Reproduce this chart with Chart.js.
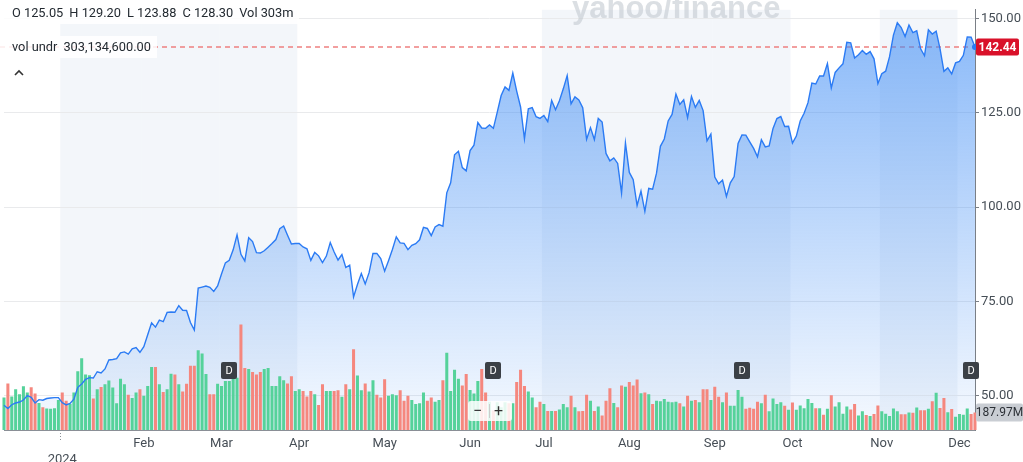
<!DOCTYPE html>
<html><head><meta charset="utf-8">
<script src="https://cdn.jsdelivr.net/npm/chart.js@4.4.1/dist/chart.umd.min.js"></script>
<style>
html,body{margin:0;padding:0;background:#fff;}
#wrap{position:relative;width:1023px;height:462px;overflow:hidden;font-family:Roboto,'Liberation Sans',Arial,sans-serif;}
#c{position:absolute;left:0;top:0;}
.ov{position:absolute;color:#232a31;font-size:12.8px;white-space:nowrap;background:rgba(255,255,255,0.85);padding:2px 6px 2px 12px;line-height:18px;}
.ov span{margin-right:6px;}
.ov span:last-child{margin-right:0;}
#wm{position:absolute;left:572px;top:-10px;font-family:'Liberation Sans',Arial,sans-serif;font-weight:bold;font-size:31px;letter-spacing:0px;color:rgba(190,196,204,0.55);}
#zoomctl{position:absolute;left:468px;top:401px;width:44px;height:20px;background:rgba(255,255,255,0.85);border-radius:3px;font-size:16px;color:#333;}
#zoomctl .a{position:absolute;left:5px;top:0px;}
#zoomctl .b{position:absolute;left:26px;top:0px;}
#zoomctl .sep{position:absolute;left:21px;top:3px;width:1px;height:14px;background:#ccc;}
#caret{position:absolute;left:13px;top:68px;}
</style></head>
<body>
<div id="wrap">
<canvas id="c" width="1023" height="462"></canvas>
<div id="wm">yahoo/finance</div>
<div class="ov" style="left:0;top:2px;"><span>O 125.05</span><span>H 129.20</span><span>L 123.88</span><span>C 128.30</span><span>Vol 303m</span></div>
<div class="ov" style="left:0;top:36px;"><span>vol undr</span><span>303,134,600.00</span></div>
<svg id="caret" width="12" height="10"><polyline points="2,7 6,3 10,7" fill="none" stroke="#333" stroke-width="1.6"/></svg>
<div id="zoomctl"><span class="a">−</span><span class="sep"></span><span class="b">+</span></div>
</div>
<script>
// ---- categories: trading days ----
const tradingDays = [
  ['2023-12',[8,11,12,13,14,15,18,19,20,21,22,26,27,28,29]],
  ['2024-01',[2,3,4,5,8,9,10,11,12,16,17,18,19,22,23,24,25,26,29,30,31]],
  ['2024-02',[1,2,5,6,7,8,9,12,13,14,15,16,20,21,22,23,26,27,28,29]],
  ['2024-03',[1,4,5,6,7,8,11,12,13,14,15,18,19,20,21,22,25,26,27,28]],
  ['2024-04',[1,2,3,4,5,8,9,10,11,12,15,16,17,18,19,22,23,24,25,26,29,30]],
  ['2024-05',[1,2,3,6,7,8,9,10,13,14,15,16,17,20,21,22,23,24,28,29,30,31]],
  ['2024-06',[3,4,5,6,7,10,11,12,13,14,17,18,20,21,24,25,26,27,28]],
  ['2024-07',[1,2,3,5,8,9,10,11,12,15,16,17,18,19,22,23,24,25,26,29,30,31]],
  ['2024-08',[1,2,5,6,7,8,9,12,13,14,15,16,19,20,21,22,23,26,27,28,29,30]],
  ['2024-09',[3,4,5,6,9,10,11,12,13,16,17,18,19,20,23,24,25,26,27,30]],
  ['2024-10',[1,2,3,4,7,8,9,10,11,14,15,16,17,18,21,22,23,24,25,28,29,30,31]],
  ['2024-11',[1,4,5,6,7,8,11,12,13,14,15,18,19,20,21,22,25,26,27,29]],
  ['2024-12',[2,3,4,5,6]]
];
// ---- close prices ----
const prices = [
  47.51,46.61,47.63,48.09,48.34,48.88,50.08,49.61,48.11,48.98,48.83,49.28,49.42,49.52,49.52,
  48.17,47.57,47.98,49.10,52.25,53.14,54.35,54.82,54.71,56.38,56.05,57.11,59.49,59.61,59.83,61.36,61.63,61.04,62.43,62.77,61.53,
  63.03,66.16,69.34,68.21,70.06,69.64,72.10,72.23,72.13,73.90,72.66,72.61,69.42,67.45,78.55,78.81,79.09,78.75,77.67,79.11,
  82.28,85.24,85.94,88.70,92.67,87.52,85.76,91.90,90.88,87.94,87.84,88.45,89.39,90.36,91.41,94.29,95.00,92.56,90.25,90.36,
  90.36,89.45,88.96,85.90,88.00,87.10,85.33,87.04,90.62,88.10,85.99,87.42,84.00,84.63,76.20,79.51,82.42,79.64,82.64,87.76,87.74,86.40,
  83.04,85.82,88.79,92.14,90.55,90.41,88.75,89.87,90.34,91.36,94.63,94.36,92.48,94.78,95.39,94.95,103.80,106.47,113.90,114.83,110.50,109.63,
  115.00,116.44,122.44,120.99,120.89,121.79,120.91,125.20,129.61,131.88,130.98,135.58,130.78,126.57,118.11,126.09,126.40,123.99,123.54,
  124.30,122.67,128.28,125.83,128.20,131.38,134.91,127.40,129.24,128.44,126.36,117.99,121.09,117.93,123.54,122.59,114.25,112.28,113.06,111.59,103.73,117.02,
  109.21,107.27,100.45,104.25,98.91,104.97,104.75,109.02,116.14,118.08,122.86,124.58,130.00,127.25,128.50,123.74,129.37,126.46,128.30,125.61,117.59,119.37,
  108.00,106.21,107.21,102.83,106.47,108.10,116.91,119.14,119.10,117.33,115.59,113.37,117.87,116.00,116.26,120.87,123.51,124.04,121.40,121.44,
  117.00,118.85,122.85,124.92,127.72,132.89,132.65,134.81,134.80,138.07,131.60,135.72,136.93,138.00,143.71,143.59,139.56,140.41,141.54,140.52,141.25,139.34,132.76,
  135.40,136.05,139.91,145.61,148.88,147.63,145.26,148.29,146.27,146.76,141.98,140.15,147.01,145.89,146.67,141.95,136.02,136.92,135.34,138.25,
  138.63,140.26,145.14,145.06,142.44
];
// ---- volume, millions ----
const volumes = [
  350,500,360,437,385,469,402,458,392,290,245,231,227,234,322,
  402,315,280,402,630,770,595,588,339,437,462,490,532,455,287,549,490,378,343,402,437,
  367,472,675,675,490,409,437,605,595,490,413,497,689,689,857,822,601,385,385,497,
  472,525,525,560,560,1133,665,654,623,595,623,654,665,472,472,577,535,500,577,420,
  437,420,360,420,385,269,490,420,420,420,427,357,490,437,867,584,427,500,413,535,378,350,
  545,367,385,374,427,315,367,322,280,287,402,315,350,304,322,535,829,420,647,549,479,601,
  430,392,525,654,402,304,210,297,245,297,287,287,514,647,472,413,350,245,304,
  280,203,203,203,220,280,245,367,245,200,203,378,315,203,252,157,315,448,290,245,479,465,
  514,479,542,395,402,385,280,315,308,332,304,297,304,287,252,367,315,322,297,437,437,322,
  465,357,297,402,259,259,430,357,227,238,227,304,287,378,200,339,280,297,259,217,
  294,217,262,234,332,290,234,234,164,227,374,252,297,175,252,220,280,157,200,161,150,171,262,
  200,175,150,231,200,168,168,189,185,241,213,213,227,309,400,236,344,190,226,141,
  171,164,231,172,187.97
];
const monthTicks = ['2024','Feb','Mar','Apr','May','Jun','Jul','Aug','Sep','Oct','Nov','Dec'];
const priceTicks = [50,75,100,125,150];
const shadedMonths = ['2024-01','2024-02','2024-03','2024-07','2024-08','2024-09','2024-11'];
const dividendDates = ['2024-03-05','2024-06-11','2024-09-12','2024-12-05'];

const labels = [];
tradingDays.forEach(([m,days])=>days.forEach(d=>labels.push(m+'-'+String(d).padStart(2,'0'))));
const monthStartIdx = [];
labels.forEach((d,i)=>{ if(i>0 && d.slice(0,7)!==labels[i-1].slice(0,7)) monthStartIdx.push(i); });
const isMonthStart = i => monthStartIdx.includes(i);

const GREEN='#55d29a', RED='#f5877e';
const barColors = volumes.map((_,i)=> (i===0 || prices[i]>=prices[i-1]) ? GREEN : RED);

function rr(ctx,x,y,w,h,r){ctx.beginPath();ctx.moveTo(x+r,y);ctx.lineTo(x+w-r,y);ctx.quadraticCurveTo(x+w,y,x+w,y+r);ctx.lineTo(x+w,y+h-r);ctx.quadraticCurveTo(x+w,y+h,x+w-r,y+h);ctx.lineTo(x+r,y+h);ctx.quadraticCurveTo(x,y+h,x,y+h-r);ctx.lineTo(x,y+r);ctx.quadraticCurveTo(x,y,x+r,y);ctx.closePath();}

const deco = {
  id:'deco',
  beforeDraw(chart){
    const {ctx, chartArea:a, scales:{x,y}} = chart;
    const half = (x.getPixelForValue(1)-x.getPixelForValue(0))/2;
    ctx.save();
    ctx.fillStyle='rgba(226,233,242,0.4)';
    shadedMonths.forEach(m=>{
      const s = labels.findIndex(d=>d.startsWith(m));
      const e = labels.findIndex((d,i)=> i>s && !d.startsWith(m));
      const xs = x.getPixelForValue(s)-half;
      const xe = e<0 ? a.right : x.getPixelForValue(e)-half;
      ctx.fillRect(xs, a.top, xe-xs, a.bottom-a.top);
    });
    const yp = Math.round(y.getPixelForValue(prices[prices.length-1]));
    ctx.strokeStyle='#ee8080'; ctx.lineWidth=1.5; ctx.setLineDash([5,4]);
    ctx.beginPath(); ctx.moveTo(0,yp); ctx.lineTo(a.right,yp); ctx.stroke();
    ctx.restore();
  },
  afterDraw(chart){
    const {ctx, chartArea:a, scales:{x,y,v}} = chart;
    ctx.save();
    // 2024 dotted tick
    const jx = Math.round(x.getPixelForValue(monthStartIdx[0]) - (x.getPixelForValue(1)-x.getPixelForValue(0))/2)+0.5;
    ctx.strokeStyle='#8a8f96'; ctx.lineWidth=1; ctx.setLineDash([1,2]);
    ctx.beginPath(); ctx.moveTo(jx,a.bottom); ctx.lineTo(jx,a.bottom+10); ctx.stroke();
    ctx.setLineDash([]);
    // dividend markers
    dividendDates.forEach(d=>{
      const px = x.getPixelForValue(labels.indexOf(d));
      ctx.fillStyle='#3b4046';
      rr(ctx, Math.round(px-8), 362, 16, 17, 2); ctx.fill();
      ctx.fillStyle='#fff'; ctx.font='11px Roboto, "Liberation Sans", sans-serif';
      ctx.textAlign='center'; ctx.textBaseline='middle';
      ctx.fillText('D', Math.round(px), 371);
    });
    // last price label
    const lp = prices[prices.length-1];
    const yp = y.getPixelForValue(lp);
    ctx.fillStyle='#d9112a';
    rr(ctx, a.right+1, yp-8.5, 43, 17, 2); ctx.fill();
    ctx.fillStyle='#fff'; ctx.font='bold 12px Roboto, "Liberation Sans", sans-serif';
    ctx.textAlign='center'; ctx.textBaseline='middle';
    ctx.fillText(lp.toFixed(2), a.right+22.5, yp+0.5);
    // last volume label
    const lv = volumes[volumes.length-1];
    const yv = v.getPixelForValue(lv);
    ctx.fillStyle='#c9cdd3';
    rr(ctx, a.right+1, yv-9, 47, 18, 2); ctx.fill();
    ctx.fillStyle='#2c3036'; ctx.font='12px Roboto, "Liberation Sans", sans-serif';
    ctx.fillText(lv.toFixed(2)+'M', a.right+24.5, yv+0.5);
    ctx.restore();
  }
};

Chart.defaults.font.family = "Roboto, 'Liberation Sans', Arial, sans-serif";
Chart.defaults.font.size = 13;

new Chart(document.getElementById('c'), {
  data:{
    labels,
    datasets:[
      { type:'line', data:prices, yAxisID:'y', order:0,
        borderColor:'#2b7bf4', borderWidth:1.4, tension:0,
        pointRadius: c => c.dataIndex===prices.length-1 ? 3 : 0,
        pointBackgroundColor:'#2b7bf4', pointBorderWidth:0,
        fill:'start',
        backgroundColor: c => {
          const {ctx, chartArea} = c.chart;
          if(!chartArea) return 'rgba(62,140,245,0.3)';
          const g = ctx.createLinearGradient(0, chartArea.top, 0, chartArea.bottom);
          g.addColorStop(0,'rgba(62,140,245,0.62)');
          g.addColorStop(1,'rgba(62,140,245,0.05)');
          return g;
        }
      },
      { type:'bar', data:volumes, yAxisID:'v', order:1,
        backgroundColor:barColors, barPercentage:0.78, categoryPercentage:1, clip:5 }
    ]
  },
  options:{
    responsive:false, animation:false, devicePixelRatio:1,
    layout:{padding:{left:3,right:0,top:0,bottom:0}},
    plugins:{legend:{display:false}, tooltip:{enabled:false}, filler:{drawTime:'beforeDatasetsDraw'}},
    scales:{
      x:{ type:'category', offset:false,
        grid:{ offset:true, color: c => isMonthStart(c.index) ? '#e3e6eb' : 'rgba(0,0,0,0)',
               tickColor: c => isMonthStart(c.index) ? '#8a8f96' : 'rgba(0,0,0,0)', tickLength:4 },
        border:{color:'#8a8f96'},
        ticks:{ autoSkip:false, maxRotation:0, minRotation:0, padding:2, color:'#464e56',
          callback:(val,i)=>{ const k = monthStartIdx.indexOf(i); if(k<0) return null; return k===0 ? ['', monthTicks[0]] : monthTicks[k]; } },
        afterFit: s => { s.height = 32; }
      },
      y:{ position:'right', min:40.93, max:152.33,
        afterBuildTicks: s => { s.ticks = priceTicks.map(v=>({value:v})); },
        grid:{ color:'#e9eaec', tickLength:4, tickColor:'#7a7f86' },
        border:{color:'#7a7f86'},
        ticks:{ color:'#464e56', padding:2, callback: v => Number(v).toFixed(2) },
        afterFit: s => { s.width = 48; }
      },
      v:{ display:false, min:0, max:4511 }
    }
  },
  plugins:[deco]
});
</script>
</body></html>
